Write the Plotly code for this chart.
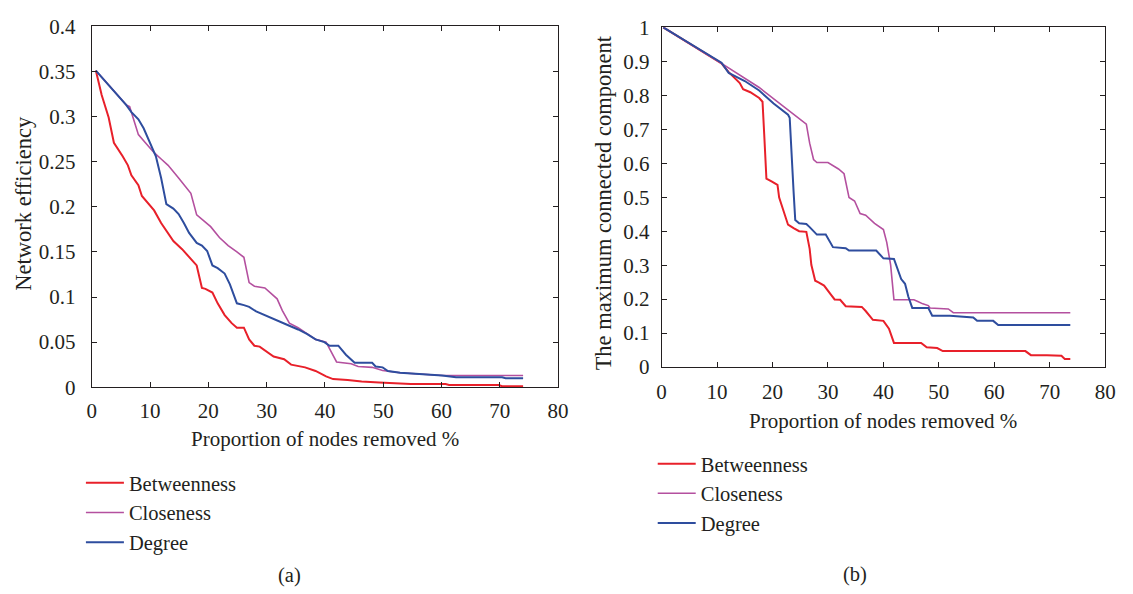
import plotly.graph_objects as go

# ---- (a) network efficiency vs. proportion of nodes removed (%) ----
eff_btw_x = [0.7, 1.7, 2.9, 3.8, 5.3, 6.2, 6.8, 8.0, 8.6, 9.5, 10.7, 11.9, 13.1, 14.0, 15.5,
             16.7, 18.0, 18.9, 19.5, 20.7, 21.6, 22.8, 24.0, 24.9, 26.1, 27.0, 27.9, 28.8,
             30.0, 31.2, 33.0, 34.2, 36.6, 38.4, 40.2, 41.4, 43.9, 46.3, 49.3, 51.7, 54.7,
             60.7, 61.3, 69.8, 70.4, 74.0]
eff_btw_y = [0.351, 0.324, 0.299, 0.271, 0.256, 0.246, 0.235, 0.224, 0.212, 0.205, 0.196,
             0.182, 0.171, 0.162, 0.153, 0.144, 0.135, 0.110, 0.109, 0.105, 0.093, 0.080,
             0.071, 0.066, 0.066, 0.053, 0.046, 0.045, 0.039, 0.034, 0.031, 0.025, 0.022,
             0.018, 0.012, 0.009, 0.008, 0.0064, 0.0053, 0.0043, 0.0036, 0.0036, 0.0025,
             0.0025, 0.001, 0.001]

eff_clo_x = [0.7, 2.9, 4.7, 5.9, 6.5, 7.1, 8.0, 9.2, 10.7, 11.9, 13.1, 14.9, 16.1, 17.0,
             18.0, 19.2, 20.4, 21.9, 23.4, 24.9, 26.1, 27.0, 27.9, 29.7, 30.9, 31.8, 32.7,
             33.9, 35.4, 36.9, 38.4, 40.2, 42.0, 44.5, 45.7, 48.1, 49.9, 52.9, 55.3, 60.1,
             74.0]
eff_clo_y = [0.351, 0.335, 0.322, 0.313, 0.311, 0.299, 0.280, 0.271, 0.260, 0.253, 0.246,
             0.232, 0.223, 0.215, 0.191, 0.185, 0.178, 0.166, 0.157, 0.150, 0.144, 0.116,
             0.112, 0.110, 0.103, 0.098, 0.085, 0.071, 0.066, 0.059, 0.053, 0.050, 0.028,
             0.026, 0.023, 0.022, 0.0185, 0.016, 0.015, 0.013, 0.013]

eff_deg_x = [0.7, 2.9, 4.7, 5.9, 6.8, 8.0, 8.9, 9.8, 11.0, 11.9, 12.8, 14.0, 14.9, 15.8,
             16.7, 18.0, 18.9, 19.8, 20.7, 21.6, 22.8, 23.7, 24.9, 26.1, 27.0, 28.2, 29.7,
             30.9, 32.1, 33.6, 35.4, 36.9, 38.4, 39.9, 40.8, 42.3, 43.6, 45.1, 48.1, 48.7,
             49.9, 50.8, 52.9, 55.3, 60.1, 62.5, 70.4, 71.0, 74.0]
eff_deg_y = [0.351, 0.335, 0.322, 0.313, 0.305, 0.297, 0.287, 0.274, 0.256, 0.232, 0.203,
             0.198, 0.192, 0.182, 0.171, 0.160, 0.157, 0.151, 0.135, 0.132, 0.126, 0.114,
             0.093, 0.091, 0.089, 0.084, 0.080, 0.077, 0.073, 0.069, 0.064, 0.059, 0.053,
             0.050, 0.046, 0.046, 0.036, 0.027, 0.027, 0.023, 0.022, 0.018, 0.016, 0.015,
             0.013, 0.011, 0.011, 0.010, 0.010]

# ---- (b) maximum connected component vs. proportion of nodes removed (%) ----
mcc_btw_x = [0.3, 5.3, 9.9, 10.8, 12.1, 14.1, 14.7, 16.0, 17.6, 18.2, 18.5, 18.9, 19.9,
             20.9, 21.2, 22.2, 22.8, 23.8, 24.8, 26.1, 26.7, 27.0, 27.7, 28.3, 29.3, 30.6,
             31.2, 32.2, 33.2, 36.1, 36.8, 38.1, 40.0, 41.0, 41.9, 46.8, 47.8, 49.7, 50.7,
             65.6, 66.6, 69.5, 72.1, 72.7, 73.7]
mcc_btw_y = [1.0, 0.950, 0.903, 0.894, 0.868, 0.836, 0.818, 0.809, 0.792, 0.781, 0.687,
             0.555, 0.546, 0.536, 0.499, 0.452, 0.419, 0.409, 0.400, 0.398, 0.348, 0.301,
             0.254, 0.249, 0.240, 0.212, 0.199, 0.198, 0.179, 0.177, 0.165, 0.139, 0.136,
             0.113, 0.071, 0.071, 0.058, 0.056, 0.047, 0.047, 0.035, 0.035, 0.033, 0.024,
             0.024]

mcc_clo_x = [0.3, 5.3, 9.9, 10.8, 17.6, 20.2, 26.1, 26.7, 27.4, 28.0, 30.0, 31.9, 32.9,
             33.8, 34.8, 35.8, 36.8, 38.4, 40.0, 40.6, 41.3, 41.9, 45.5, 46.2, 47.1, 48.1,
             48.4, 51.7, 52.6, 73.7]
mcc_clo_y = [1.0, 0.950, 0.903, 0.894, 0.823, 0.790, 0.715, 0.659, 0.611, 0.602, 0.602,
             0.583, 0.569, 0.499, 0.489, 0.452, 0.447, 0.423, 0.405, 0.367, 0.301, 0.198,
             0.198, 0.193, 0.186, 0.181, 0.174, 0.171, 0.160, 0.160]

mcc_deg_x = [0.3, 5.3, 9.9, 10.8, 12.1, 15.0, 17.6, 20.2, 22.8, 23.1, 23.8, 24.1, 24.8,
             26.1, 26.7, 28.0, 29.6, 30.9, 33.2, 33.8, 38.7, 40.0, 41.9, 43.2, 43.9, 44.5,
             45.2, 48.1, 48.8, 52.0, 56.2, 56.9, 59.8, 60.7, 73.7]
mcc_deg_y = [1.0, 0.950, 0.903, 0.896, 0.866, 0.842, 0.814, 0.776, 0.743, 0.734, 0.517,
             0.433, 0.423, 0.421, 0.412, 0.390, 0.390, 0.353, 0.350, 0.343, 0.343, 0.320,
             0.318, 0.259, 0.245, 0.207, 0.174, 0.174, 0.151, 0.151, 0.146, 0.136, 0.136,
             0.124, 0.124]

series_names = ["Betweenness", "Closeness", "Degree"]
series_colors = ["#e8202a", "#b4509f", "#2e4d9e"]
series_widths = [2, 1.6, 2]

W, H = 1133, 594
INK = "#231f20"
FONT = "Liberation Serif, Times New Roman, serif"
TICK_FONT = dict(family=FONT, size=21, color=INK)
XTITLE_FONT = dict(family=FONT, size=21, color=INK)
YTITLE_FONT = dict(family=FONT, size=22.5, color=INK)
LEG_FONT = dict(family=FONT, size=20.5, color=INK)

fig = go.Figure()

panel_a = [(eff_btw_x, eff_btw_y), (eff_clo_x, eff_clo_y), (eff_deg_x, eff_deg_y)]
panel_b = [(mcc_btw_x, mcc_btw_y), (mcc_clo_x, mcc_clo_y), (mcc_deg_x, mcc_deg_y)]

for i, (xs, ys) in enumerate(panel_a):
    fig.add_trace(go.Scatter(
        x=xs, y=ys, mode="lines", name=series_names[i],
        line=dict(color=series_colors[i], width=series_widths[i]),
        xaxis="x", yaxis="y", legend="legend", legendgroup=f"a{i}"))

for i, (xs, ys) in enumerate(panel_b):
    fig.add_trace(go.Scatter(
        x=xs, y=ys, mode="lines", name=series_names[i],
        line=dict(color=series_colors[i], width=series_widths[i]),
        xaxis="x2", yaxis="y2", legend="legend2", legendgroup=f"b{i}"))

axis_style = dict(
    showline=True, linecolor=INK, linewidth=1, mirror="ticks",
    ticks="inside", ticklen=5, tickcolor=INK, tickwidth=1,
    showgrid=False, zeroline=False, tickfont=TICK_FONT,
)

x_ticks = [0, 10, 20, 30, 40, 50, 60, 70, 80]
x_title = "Proportion of nodes removed %"

# panel frames in pixels: (left, right, top, bottom)
A = (88, 561, 15, 391)
B = (666, 1116, 16, 370)


def label(text, px, py, font, angle=0):
    return dict(text=text, x=px / W, y=1 - py / H, xref="paper", yref="paper",
                xanchor="center", yanchor="middle", textangle=angle,
                showarrow=False, font=font)


fig.update_layout(
    width=W, height=H,
    margin=dict(l=0, r=0, t=0, b=0),
    paper_bgcolor="white", plot_bgcolor="white",
    font=TICK_FONT,
    xaxis=dict(domain=[A[0] / W, A[1] / W], range=[0, 80], tickvals=x_ticks,
               anchor="y", ticklabelstandoff=5, **axis_style),
    yaxis=dict(domain=[1 - A[3] / H, 1 - A[2] / H], range=[0, 0.4], dtick=0.05,
               anchor="x", ticklabelstandoff=11, **axis_style),
    xaxis2=dict(domain=[B[0] / W, B[1] / W], range=[0, 80], tickvals=x_ticks,
                anchor="y2", ticklabelstandoff=6, **axis_style),
    yaxis2=dict(domain=[1 - B[3] / H, 1 - B[2] / H], range=[0, 1], dtick=0.1,
                anchor="x2", ticklabelstandoff=7, **axis_style),
    legend=dict(x=77 / W, y=1 - 470 / H, xanchor="left", yanchor="top",
                bgcolor="rgba(0,0,0,0)", tracegroupgap=0, itemwidth=38, font=LEG_FONT),
    legend2=dict(x=657 / W, y=1 - 450 / H, xanchor="left", yanchor="top",
                 bgcolor="rgba(0,0,0,0)", tracegroupgap=0, itemwidth=38, font=LEG_FONT),
    annotations=[
        label(x_title, (A[0] + A[1]) / 2, 445, XTITLE_FONT),
        label(x_title, (B[0] + B[1]) / 2, 426, XTITLE_FONT),
        label("Network efficiency", 19, (A[2] + A[3]) / 2 - 4, YTITLE_FONT, -90),
        label("The maximum connected component", 608, (B[2] + B[3]) / 2 + 6, YTITLE_FONT, -90),
        label("(a)", 289, 587, LEG_FONT),
        label("(b)", 862, 586, LEG_FONT),
    ],
)

fig.write_html("out.html")
